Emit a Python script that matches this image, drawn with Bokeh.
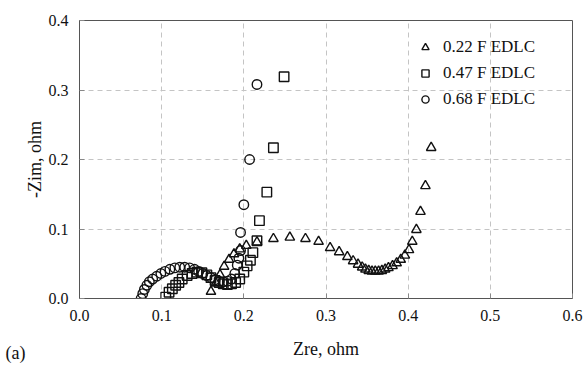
from bokeh.plotting import figure
from bokeh.models import FixedTicker, PrintfTickFormatter, Label, Range1d
from bokeh.embed import file_html
from bokeh.resources import INLINE

# 0.22 F EDLC (triangles)
x_022 = [0.160, 0.166, 0.171, 0.176, 0.182, 0.188, 0.195, 0.203, 0.216, 0.236,
         0.256, 0.275, 0.291, 0.305, 0.316, 0.326, 0.333, 0.339, 0.344, 0.348,
         0.352, 0.356, 0.360, 0.364, 0.368, 0.372, 0.376, 0.381, 0.386, 0.391,
         0.396, 0.401, 0.405, 0.410, 0.415, 0.421, 0.428]
y_022 = [0.010, 0.022, 0.034, 0.046, 0.056, 0.064, 0.071, 0.076, 0.081, 0.086,
         0.088, 0.086, 0.082, 0.073, 0.067, 0.060, 0.054, 0.049, 0.045, 0.042,
         0.040, 0.039, 0.039, 0.039, 0.040, 0.042, 0.044, 0.047, 0.051, 0.056,
         0.062, 0.070, 0.082, 0.099, 0.125, 0.162, 0.217]

# 0.47 F EDLC (squares)
x_047 = [0.105, 0.109, 0.113, 0.117, 0.121, 0.125, 0.131, 0.137, 0.143, 0.149,
         0.155, 0.160, 0.165, 0.170, 0.175, 0.180, 0.185, 0.190, 0.195, 0.200,
         0.204, 0.208, 0.211, 0.216, 0.219, 0.228, 0.236, 0.249]
y_047 = [0.002, 0.009, 0.014, 0.019, 0.023, 0.028, 0.033, 0.036, 0.038, 0.037,
         0.034, 0.030, 0.026, 0.023, 0.021, 0.020, 0.021, 0.023, 0.028, 0.038,
         0.047, 0.055, 0.066, 0.083, 0.112, 0.153, 0.217, 0.319]

# 0.68 F EDLC (circles)
x_068 = [0.075, 0.077, 0.079, 0.082, 0.085, 0.089, 0.094, 0.099, 0.104, 0.110,
         0.116, 0.122, 0.128, 0.134, 0.140, 0.145, 0.150, 0.155, 0.160, 0.165,
         0.170, 0.175, 0.180, 0.185, 0.189, 0.192, 0.194, 0.196, 0.196, 0.200,
         0.207, 0.216]
y_068 = [0.000, 0.007, 0.013, 0.019, 0.024, 0.028, 0.032, 0.036, 0.039, 0.042,
         0.044, 0.045, 0.045, 0.044, 0.042, 0.039, 0.036, 0.033, 0.030, 0.027,
         0.025, 0.024, 0.025, 0.028, 0.036, 0.048, 0.058, 0.069, 0.095, 0.135,
         0.200, 0.308]

series_labels = ["0.22 F EDLC", "0.47 F EDLC", "0.68 F EDLC"]
x_ticks = [0.0, 0.1, 0.2, 0.3, 0.4, 0.5, 0.6]
y_ticks = [0.0, 0.1, 0.2, 0.3, 0.4]

FONT = "Liberation Serif"
TXT = "#111111"

p = figure(width=585, height=370, output_backend="svg", toolbar_location=None,
           x_range=Range1d(0, 0.6), y_range=Range1d(0, 0.4),
           min_border_left=79, min_border_right=13, min_border_top=20,
           min_border_bottom=72)
p.background_fill_color = "white"
p.border_fill_color = "white"
p.outline_line_color = "#555555"
p.outline_line_width = 1

mk = dict(size=9.5, fill_color=None, line_color="#111111", line_width=1.4)
p.scatter(x_022, y_022, marker="triangle", legend_label=series_labels[0], **mk)
p.scatter(x_047, y_047, marker="square", legend_label=series_labels[1], **mk)
p.scatter(x_068, y_068, marker="circle", legend_label=series_labels[2], **mk)

for ax, ticks in ((p.xaxis[0], x_ticks), (p.yaxis[0], y_ticks)):
    ax.ticker = FixedTicker(ticks=ticks)
    ax.formatter = PrintfTickFormatter(format="%.1f")
    ax.major_label_text_font = FONT
    ax.major_label_text_font_size = "16px"
    ax.major_label_text_color = TXT
    ax.axis_label_text_font = FONT
    ax.axis_label_text_font_size = "18px"
    ax.axis_label_text_font_style = "normal"
    ax.axis_label_text_color = TXT
    ax.axis_line_color = "#555555"
    ax.major_tick_in = 5
    ax.major_tick_out = 0
    ax.major_tick_line_color = "#888888"
    ax.minor_tick_line_color = None

p.xaxis.axis_label = "Zre, ohm"
p.yaxis.axis_label = "-Zim, ohm"
p.xaxis.major_label_standoff = 11
p.xaxis.axis_label_standoff = 15
p.yaxis.major_label_standoff = 11
p.yaxis.axis_label_standoff = 1

p.xgrid.ticker = FixedTicker(ticks=x_ticks[1:-1])
p.ygrid.ticker = FixedTicker(ticks=y_ticks[1:-1])
p.grid.grid_line_color = "#c4c4c4"
p.grid.grid_line_dash = "5 4"
p.grid.grid_line_width = 1

lg = p.legend[0]
lg.location = (337, 189)
lg.background_fill_alpha = 0
lg.border_line_color = None
lg.padding = 0
lg.margin = 0
lg.spacing = 6
lg.glyph_width = 18
lg.glyph_height = 18
lg.label_standoff = 9
lg.label_text_font = FONT
lg.label_text_font_size = "17px"
lg.label_text_color = TXT

p.add_layout(Label(x=-0.090, y=-0.0777, text="(a)",
                   text_font=FONT, text_font_size="18px", text_color=TXT,
                   text_baseline="middle"), "left")

open("out.html", "w").write(file_html(p, INLINE))
